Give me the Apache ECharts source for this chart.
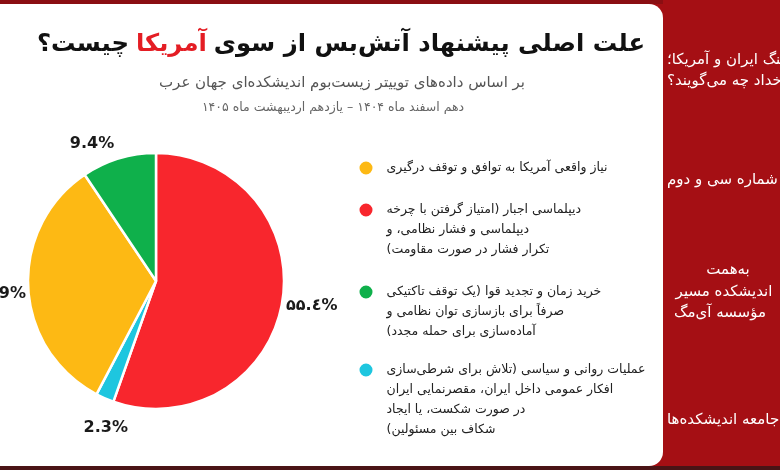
<!DOCTYPE html>
<html dir="rtl">
<head>
<meta charset="utf-8">
<script src="https://cdn.jsdelivr.net/npm/echarts@6/dist/echarts.min.js"></script>
<style>html,body{margin:0;padding:0;background:#a50f14;overflow:hidden}#c{width:780px;height:470px}</style>
</head>
<body>
<div id="c"></div>
<script>
// Slices, clockwise from 12 o'clock
const sliceNames = [
  'دیپلماسی اجبار (امتیاز گرفتن با چرخه\nدیپلماسی و فشار نظامی، و\nتکرار فشار در صورت مقاومت)',
  'عملیات روانی و سیاسی (تلاش برای شرطی‌سازی\nافکار عمومی داخل ایران، مقصرنمایی ایران\nدر صورت شکست، یا ایجاد\nشکاف بین مسئولین)',
  'نیاز واقعی آمریکا به توافق و توقف درگیری',
  'خرید زمان و تجدید قوا (یک توقف تاکتیکی\nصرفاً برای بازسازی توان نظامی و\nآماده‌سازی برای حمله مجدد)'
];
const sliceValues = [55.4, 2.3, 32.9, 9.4];
const labelDigits = ['fa', 'en', 'en', 'en'];
const sliceColors = ['#f8262d', '#1ec6df', '#fdb914', '#0fb04b'];
// legend order (top to bottom)
const legendOrder = [2, 0, 3, 1];

const titleMain = 'علت اصلی پیشنهاد آتش‌بس از سوی';
const titleRed = 'آمریکا';
const titleEnd = 'چیست؟';
const subtitle = 'بر اساس داده‌های توییتر زیست‌بوم اندیشکده‌ای جهان عرب';
const dateLine = 'دهم اسفند ماه ۱۴۰۴ – یازدهم اردیبهشت ماه ۱۴۰۵';
const panelCut = ['جنگ ایران و آمریکا؛', 'رخداد چه می‌گویند؟', 'شماره سی و دوم', 'جامعه اندیشکده‌ها'];
const panelFull = ['به‌همت', 'اندیشکده مسیر', 'مؤسسه آی‌مگ'];

const FONT = "'DejaVu Sans', sans-serif";
const faMap = { '0': '۰', '1': '۱', '2': '۲', '3': '۳', '4': '٤', '5': '۵', '6': '۶', '7': '۷', '8': '۸', '9': '۹' };
const faDigits = s => '\u2066' + s.replace(/[0-9]/g, d => faMap[d]) + '\u2069';
const fmtPct = (v, i) => { const s = v.toFixed(1) + '%'; return labelDigits[i] === 'fa' ? faDigits(s) : s; };

const center = [156, 281];
const labelNudge = [[0, -2], [13, 2], [0, 4], [-18, 14]];
const pieData = sliceNames.map((n, i) => ({ name: n, value: sliceValues[i], itemStyle: { color: sliceColors[i] } }));

const legendFirstLineY = [168, 210, 292, 370];
const LH = 20;
const legends = legendOrder.map((idx, k) => {
  const n = sliceNames[idx].split('\n').length;
  return {
    data: [sliceNames[idx]], orient: 'vertical', left: 357.5,
    top: legendFirstLineY[k] - (2 * n - 1) * LH / 2,
    padding: 0, icon: 'circle', itemWidth: 31, itemHeight: 15, selectedMode: false,
    formatter: name => '\n'.repeat(name.split('\n').length - 1) + name,
    textStyle: { fontFamily: FONT, fontSize: 12.5, lineHeight: LH, color: '#222' }
  };
});

const chart = echarts.init(document.getElementById('c'));
chart.setOption({
  backgroundColor: '#a50f14',
  animation: false,
  legend: legends,
  graphic: [
    { type: 'rect', z: -3, shape: { x: 0, y: 0, width: 663, height: 4 }, style: { fill: '#8a0e12' } },
    { type: 'rect', z: -3, shape: { x: 0, y: 466, width: 780, height: 4 }, style: { fill: '#4a1416' } },
    ...panelCut.map((t, i) => ({ type: 'text', z: -2, x: 667, y: [60, 81, 180, 420][i],
      style: { text: t, align: 'left', verticalAlign: 'middle', fill: '#fff', font: '15px ' + FONT } })),
    ...panelFull.map((t, i) => ({ type: 'text', z: -2, x: [728, 724, 720][i], y: [270, 292, 313][i],
      style: { text: t, align: 'center', verticalAlign: 'middle', fill: '#fff', font: '15px ' + FONT } })),
    { type: 'rect', z: -1, shape: { x: -20, y: 4, width: 683, height: 462, r: [0, 14, 14, 0] }, style: { fill: '#ffffff' } },
    { type: 'text', z: 5, x: 341, y: 45, style: {
      text: '{b|' + titleEnd + '}{r|' + titleRed + '}{b|' + titleMain + '}',
      align: 'center', verticalAlign: 'middle',
      rich: {
        b: { fontFamily: FONT, fontWeight: 'bold', fontSize: 24.3, fill: '#111' },
        r: { fontFamily: FONT, fontWeight: 'bold', fontSize: 24.3, fill: '#e41d24', padding: [0, 7, 0, 7] }
      } } },
    { type: 'text', z: 5, x: 342, y: 83, style: { text: subtitle, align: 'center', verticalAlign: 'middle', fill: '#555', font: '15px ' + FONT } },
    { type: 'text', z: 5, x: 333, y: 108, style: { text: dateLine, align: 'center', verticalAlign: 'middle', fill: '#666', font: '12.5px ' + FONT } }
  ],
  series: [
    {
      type: 'pie', center: center, radius: 128, startAngle: 90, clockwise: true,
      label: { show: false }, labelLine: { show: false },
      itemStyle: { borderColor: '#fff', borderWidth: 2.5 },
      emphasis: { disabled: true },
      data: pieData
    },
    {
      type: 'pie', center: center, radius: [140, 170], startAngle: 90, clockwise: true, silent: true,
      itemStyle: { color: 'rgba(0,0,0,0)', borderWidth: 0 },
      label: { show: true, position: 'inside', rotate: 0, color: '#1a1a1a', fontFamily: FONT, fontSize: 16, fontWeight: 'bold',
        formatter: p => fmtPct(p.value, p.dataIndex) },
      labelLine: { show: false },
      emphasis: { disabled: true },
      data: sliceNames.map((n, i) => ({ name: n, value: sliceValues[i], label: { offset: labelNudge[i] } }))
    }
  ]
});
</script>
</body>
</html>
